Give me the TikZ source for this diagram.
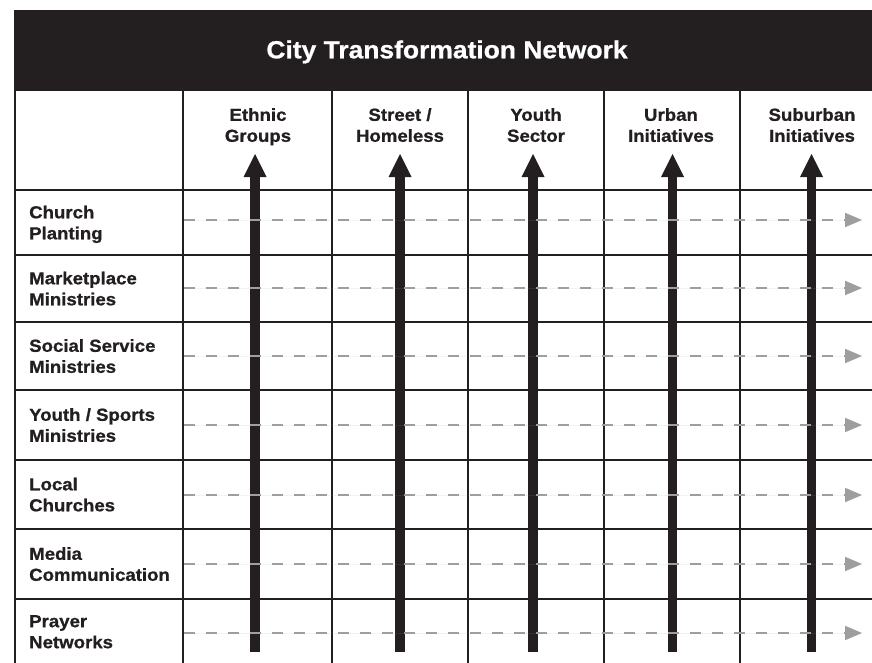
\documentclass[tikz,border=0pt]{standalone}
\usepackage{fontspec}
\setmainfont{Liberation Sans}[FakeStretch=1.07, BoldFeatures={FakeBold=0.8}]
\usetikzlibrary{arrows.meta,positioning}
\definecolor{inkblack}{RGB}{35,31,32}
\definecolor{dashgrey}{RGB}{158,158,160}
\tikzset{
  title text/.style={anchor=base, inner sep=0pt, text=white, font=\bfseries\fontsize{24.7}{29}\selectfont},
  sector label/.style={anchor=north, align=center, inner sep=0pt, text=inkblack, font=\bfseries\fontsize{17.4}{21}\selectfont},
  ministry label/.style={anchor=north west, align=left, inner sep=0pt, text=inkblack, font=\bfseries\fontsize{17.4}{21}\selectfont},
  grid line/.style={draw=inkblack, line width=2pt},
  sector arrow/.style={draw=inkblack, fill=inkblack, line width=9.5pt, -{Triangle[width=23pt,length=23pt,line width=0pt]}},
  ministry flow/.style={draw=dashgrey, fill=dashgrey, line width=2.6pt, dash pattern=on 11pt off 11pt, -{Triangle[width=14.5pt,length=17pt,line width=0pt]}}
}

\begin{document}
\begin{tikzpicture}[x=1pt,y=-1pt]
  % Page size of the picture
  \useasboundingbox (0,0) rectangle (872,662);
  \clip (0,0) rectangle (872,662);
  \fill[white] (0,0) rectangle (872,662);

  % Black title bar across the top
  \fill[inkblack] (14,10) rectangle (892,91);
  \node[title text] (title) at (447,58.3) {City Transformation Network};

  % Outer edge and column dividers
  \draw[grid line] (15,91) -- (15,670);
  \draw[grid line] (183,91) -- (183,670);
  \draw[grid line] (332,91) -- (332,670);
  \draw[grid line] (468,91) -- (468,670);
  \draw[grid line] (604,91) -- (604,670);
  \draw[grid line] (740,91) -- (740,670);
  % Row dividers
  \draw[grid line] (15,190) -- (892,190);
  \draw[grid line] (15,255) -- (892,255);
  \draw[grid line] (15,322) -- (892,322);
  \draw[grid line] (15,390) -- (892,390);
  \draw[grid line] (15,460) -- (892,460);
  \draw[grid line] (15,529) -- (892,529);
  \draw[grid line] (15,599) -- (892,599);

  % Column headings
  \node[sector label] (EG) at (258,108) {Ethnic\\Groups};
  \node[sector label] (SH) at (400,108) {Street /\\Homeless};
  \node[sector label] (YS) at (536,108) {Youth\\Sector};
  \node[sector label] (UI) at (671,108) {Urban\\Initiatives};
  \node[sector label] (SI) at (812,108) {Suburban\\Initiatives};

  % Row headings
  \node[ministry label] (CP) at (29,205.5) {Church\\Planting};
  \node[ministry label] (MM) at (29,271.5) {Marketplace\\Ministries};
  \node[ministry label] (SS) at (29,339) {Social Service\\Ministries};
  \node[ministry label] (YM) at (29,408) {Youth / Sports\\Ministries};
  \node[ministry label] (LC) at (29,477.5) {Local\\Churches};
  \node[ministry label] (MC) at (29,547) {Media\\Communication};
  \node[ministry label] (PN) at (29,615) {Prayer\\Networks};

  % Ends of the sector arrows
  \coordinate (EG-foot) at (255,652);
  \coordinate (EG-tip) at (255,154);
  \coordinate (SH-foot) at (400,652);
  \coordinate (SH-tip) at (400,154);
  \coordinate (YS-foot) at (533,652);
  \coordinate (YS-tip) at (533,154);
  \coordinate (UI-foot) at (672.5,652);
  \coordinate (UI-tip) at (672.5,154);
  \coordinate (SI-foot) at (811.5,652);
  \coordinate (SI-tip) at (811.5,154);

  \draw[sector arrow] (EG-foot) -- (EG-tip);
  \draw[sector arrow] (SH-foot) -- (SH-tip);
  \draw[sector arrow] (YS-foot) -- (YS-tip);
  \draw[sector arrow] (UI-foot) -- (UI-tip);
  \draw[sector arrow] (SI-foot) -- (SI-tip);

  % Ends of the dashed rows
  \coordinate (CP-in) at (184,220);
  \coordinate (CP-out) at (862,220);
  \coordinate (MM-in) at (184,288);
  \coordinate (MM-out) at (862,288);
  \coordinate (SS-in) at (184,356);
  \coordinate (SS-out) at (862,356);
  \coordinate (YM-in) at (184,425);
  \coordinate (YM-out) at (862,425);
  \coordinate (LC-in) at (184,495);
  \coordinate (LC-out) at (862,495);
  \coordinate (MC-in) at (184,564);
  \coordinate (MC-out) at (862,564);
  \coordinate (PN-in) at (184,633);
  \coordinate (PN-out) at (862,633);

  \draw[ministry flow] (CP-in) -- (CP-out);
  \draw[ministry flow] (MM-in) -- (MM-out);
  \draw[ministry flow] (SS-in) -- (SS-out);
  \draw[ministry flow] (YM-in) -- (YM-out);
  \draw[ministry flow] (LC-in) -- (LC-out);
  \draw[ministry flow] (MC-in) -- (MC-out);
  \draw[ministry flow] (PN-in) -- (PN-out);
\end{tikzpicture}
\end{document}
